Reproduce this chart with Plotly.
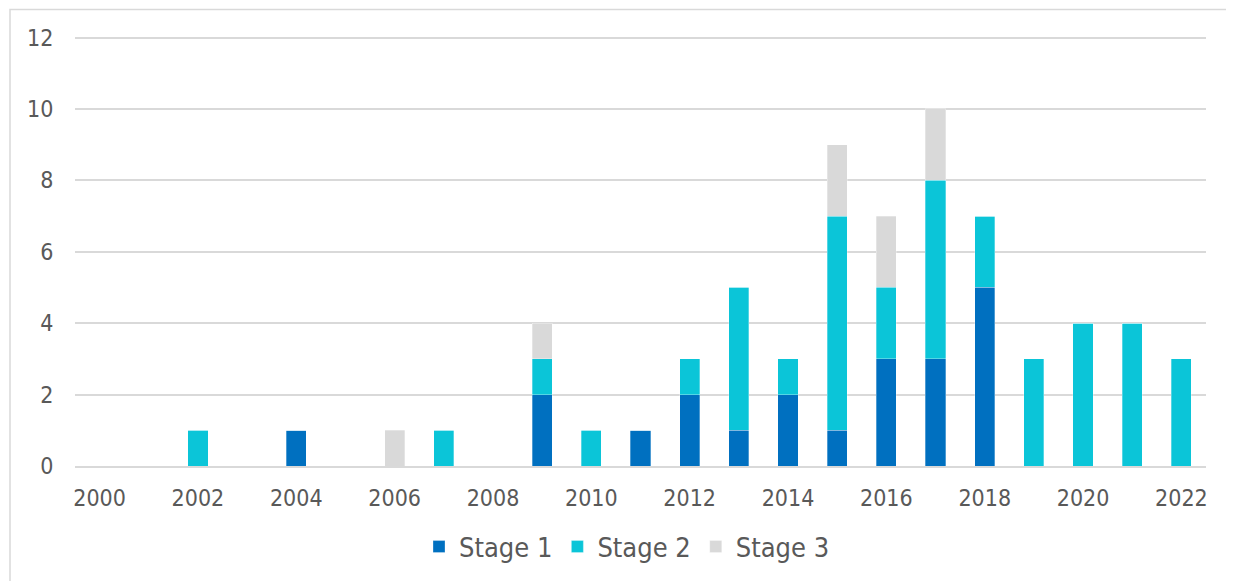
import plotly.graph_objects as go

years = [str(y) for y in range(2000, 2023)]
stage1 = [0, 0, 0, 0, 1, 0, 0, 0, 0, 2, 0, 1, 2, 1, 2, 1, 3, 3, 5, 0, 0, 0, 0]
stage2 = [0, 0, 1, 0, 0, 0, 0, 1, 0, 1, 1, 0, 1, 4, 1, 6, 2, 5, 2, 3, 4, 4, 3]
stage3 = [0, 0, 0, 0, 0, 0, 1, 0, 0, 1, 0, 0, 0, 0, 0, 2, 2, 2, 0, 0, 0, 0, 0]
tick_labels = [y if (int(y) % 2 == 0) else "" for y in years]

series = [("Stage 1", stage1, "#0070C0"),
          ("Stage 2", stage2, "#0BC5D8"),
          ("Stage 3", stage3, "#D9D9D9")]

fig = go.Figure()
for name, vals, col in series:
    fig.add_trace(go.Bar(x=years, y=vals, name=name,
                         marker=dict(color=col, line=dict(color="rgba(255,255,255,0.5)", width=0.6))))

# page has an 8px body margin; work in figure coordinates = screen - 8
OFF = 8
YMAX = 12.1
unit = (466 - 38) / 12.0
top_px = 466 - YMAX * unit
W, H = 1234 - OFF, 581 - OFF
L, T = 75 - OFF, int(round(top_px - OFF))
R = W - (1206 - OFF)
B = H - (466 - OFF)
pw, ph = W - L - R, H - T - B

def px_x(p):
    return (p - OFF - L) / pw

def px_y(p):
    return (H - B - (p - OFF)) / ph

FONT = "DejaVu Sans Condensed, DejaVu Sans, sans-serif"

fig.update_layout(
    width=W, height=H,
    barmode="stack", bargap=0.59,
    margin=dict(l=L, r=R, t=T, b=B, autoexpand=False),
    paper_bgcolor="white", plot_bgcolor="white",
    font=dict(family=FONT, size=23, color="#595959"),
    xaxis=dict(type="category", tickmode="array", tickvals=years, ticktext=tick_labels,
               showgrid=False, showline=True, linecolor="#D9D9D9", linewidth=1.5,
               ticks="outside", ticklen=11, tickcolor="rgba(255,255,255,0)",
               tickfont=dict(family=FONT, size=23, color="#595959")),
    yaxis=dict(range=[0, YMAX], tickvals=[0, 2, 4, 6, 8, 10, 12], showgrid=True,
               gridcolor="#D9D9D9", gridwidth=1.5,
               zeroline=False, showline=False, ticks="outside", ticklen=16,
               tickcolor="rgba(255,255,255,0)",
               tickfont=dict(family=FONT, size=23, color="#595959")),
    legend=dict(orientation="h", x=px_x(627), xanchor="center", y=px_y(547), yanchor="middle",
                font=dict(family=FONT, size=27, color="#595959"), itemwidth=30,
                traceorder="normal"),
    shapes=[dict(type="rect", xref="paper", yref="paper",
                 x0=px_x(10), x1=px_x(1260), y0=px_y(620), y1=px_y(9.5),
                 line=dict(color="#D9D9D9", width=1.5), fillcolor="rgba(0,0,0,0)", layer="below")],
)

fig.write_html("out.html")
